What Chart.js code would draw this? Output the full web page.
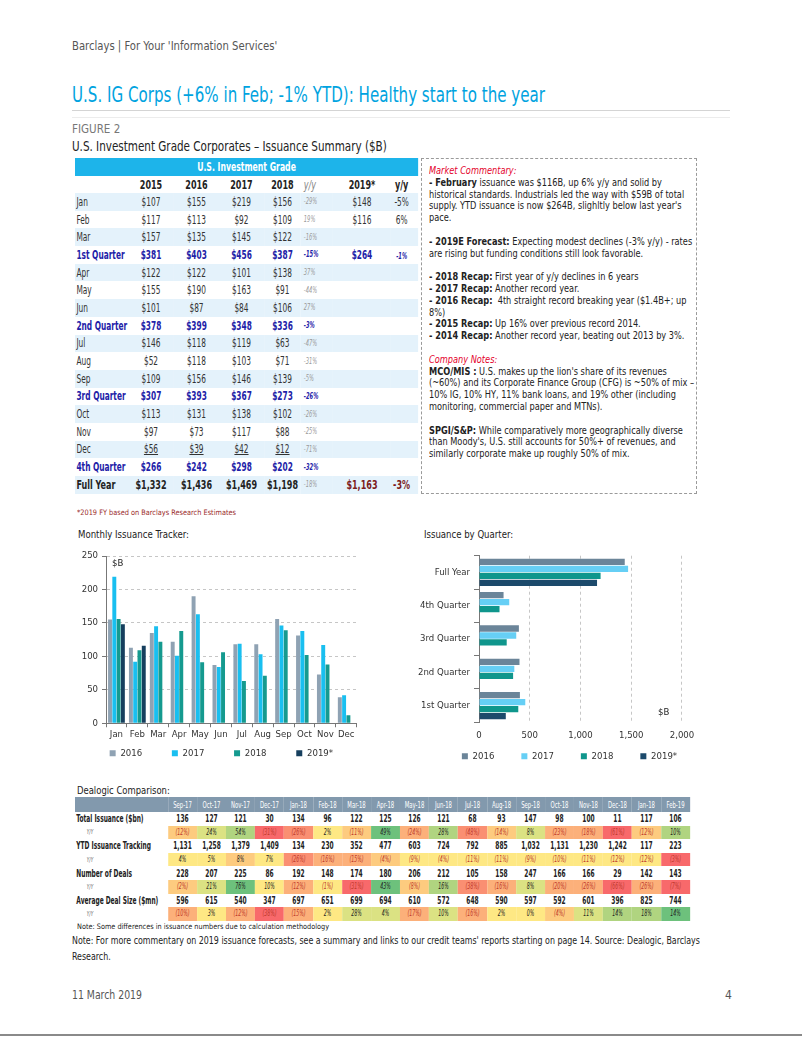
<!DOCTYPE html>
<html>
<head>
<meta charset="utf-8">
<script src="https://cdn.jsdelivr.net/npm/chart.js@4.4.1/dist/chart.umd.min.js"></script>
<style>
  body { margin: 0; width: 802px; height: 1037px; background: #fff; position: relative; overflow: hidden;
         font-family: "Liberation Sans Narrow", "DejaVu Sans Condensed", Roboto, sans-serif; color: #222; }
  .abs { position: absolute; white-space: nowrap; transform-origin: 0 0; }
  #hdr { left: 72px; top: 38px; font-size: 12.5px; color: #555; }
  #title { left: 72px; top: 83px; font-size: 21px; color: #00a3e0; }
  #rule1 { left: 72px; top: 110px; width: 658px; height: 0; border-top: 1.5px solid #d4d4d4; }
  #rule2 { left: 72px; top: 117px; width: 658px; height: 0; border-top: 1px solid #ececec; }
  #fig { left: 72px; top: 122px; font-size: 12px; color: #777; }
  #figt { left: 72px; top: 138px; font-size: 13.5px; color: #222; }
  table { border-collapse: collapse; table-layout: fixed; transform-origin: 0 0; }
  #iss { position: absolute; left: 75px; top: 158px; font-size: 11.5px; color: #333; }
  #iss td { padding: 0; height: 17.7px; text-align: center; white-space: nowrap; overflow: visible; }
  #iss td.lab { text-align: left; padding-left: 2px; }
  #iss tr.band td { background: #1db4ea; color: #fff; font-weight: bold; font-size: 12px; height: 18px; }
  #iss tr.colh td { font-weight: bold; font-size: 12.5px; color: #222; height: 17px; }
  #iss tr.sh td { background: #e4f2fb; }
  #iss td.yy { font-style: italic; font-size: 8px; color: #9a9a9a; text-align: left; padding-left: 4px; }
  #iss td.yy2 { padding-right: 8px; }
  #iss tr.q td { color: #1e22a8; font-weight: bold; }
  #iss tr.q td.yy { color: #1e22a8; }
  #iss tr.fy td { color: #222; font-weight: bold; font-size: 12.5px; }
  #iss tr.fy td.yy { font-weight: normal; color: #9a9a9a; font-size: 8px; }
  #iss tr.fy td.red { color: #7d1c1c; }
  #iss tr.ul td.v { text-decoration: underline; }
  #box { position: absolute; left: 421px; top: 158px; width: 276px; height: 336px; box-sizing: border-box;
         border: 1px dashed #9a9a9a; padding: 6px 0 0 7px; font-size: 10.5px; line-height: 11.8px; color: #222; overflow: hidden; }
  #boxin { transform-origin: 0 0; }
  #boxin div { white-space: nowrap; height: 11.8px; }
  #boxin div span.l { display: inline-block; }
  #boxin .red { color: #e4002b; font-style: italic; }
  #fn { left: 77px; top: 508px; font-size: 7.5px; color: #9a2a2a; }
  .ctitle { font-size: 11px; color: #222; }
  canvas { position: absolute; }
  #dlt { left: 77px; top: 784px; font-size: 11px; color: #222; }
  #dl { position: absolute; left: 75px; top: 797px; font-size: 10px; }
  #dl td { padding: 0; height: 13.6px; text-align: center; white-space: nowrap; font-weight: bold; color: #222; }
  #dl tr.h td { background: #8299ad; color: #fff; font-weight: normal; font-size: 9px; height: 15px; }
  #dl td.lab { text-align: left; padding-left: 2px; }
  #dl tr.y td { font-weight: normal; font-style: italic; font-size: 8px; }
  #dl tr.y td.lab { padding-left: 18px; font-size: 7px; color: #666; }
  #dl td.neg { color: #c0392b; }
  #n1 { left: 77px; top: 922px; font-size: 7.5px; color: #222; }
  #n2 { left: 72px; top: 932px; font-size: 10.5px; line-height: 16px; color: #222; }
  #date { left: 72px; top: 988px; font-size: 12px; color: #555; }
  #pg { left: 725px; top: 988px; font-size: 12px; color: #555; }
  #bot { left: 0; top: 1034px; width: 802px; height: 0; border-top: 2px solid #8a8a8a; }
</style>
</head>
<body>
<div class="abs" id="hdr" data-w="205">Barclays | For Your 'Information Services'</div>
<div class="abs" id="title" data-w="473">U.S. IG Corps (+6% in Feb; -1% YTD): Healthy start to the year</div>
<div class="abs" id="rule1"></div>
<div class="abs" id="rule2"></div>
<div class="abs" id="fig" data-w="48">FIGURE 2</div>
<div class="abs" id="figt" data-w="315">U.S. Investment Grade Corporates – Issuance Summary ($B)</div>

<table id="iss"></table>

<div id="box"><div id="boxin">
  <div class="red">Market Commentary:</div>
  <div><span class="l"><b>- February</b> issuance was $116B, up 6% y/y and solid by</span></div>
  <div><span class="l">historical standards. Industrials led the way with $59B of total</span></div>
  <div><span class="l">supply. YTD issuance is now $264B, slighltly below last year's</span></div>
  <div>pace.</div>
  <div></div>
  <div><span class="l"><b>- 2019E Forecast:</b> Expecting modest declines (-3% y/y) - rates</span></div>
  <div><span class="l">are rising but funding conditions still look favorable.</span></div>
  <div></div>
  <div><b>- 2018 Recap:</b> First year of y/y declines in 6 years</div>
  <div><b>- 2017 Recap:</b> Another record year.</div>
  <div><span class="l"><b>- 2016 Recap:</b>&nbsp; 4th straight record breaking year ($1.4B+; up</span></div>
  <div>8%)</div>
  <div><b>- 2015 Recap:</b> Up 16% over previous record 2014.</div>
  <div><span class="l"><b>- 2014 Recap:</b> Another record year, beating out 2013 by 3%.</span></div>
  <div></div>
  <div class="red">Company Notes:</div>
  <div><span class="l"><b>MCO/MIS :</b> U.S. makes up the lion's share of its revenues</span></div>
  <div><span class="l">(~60%) and its Corporate Finance Group (CFG) is ~50% of mix –</span></div>
  <div><span class="l">10% IG, 10% HY, 11% bank loans, and 19% other (including</span></div>
  <div>monitoring, commercial paper and MTNs).</div>
  <div></div>
  <div><span class="l"><b>SPGI/S&amp;P:</b> While comparatively more geographically diverse</span></div>
  <div><span class="l">than Moody's, U.S. still accounts for 50%+ of revenues, and</span></div>
  <div>similarly corporate make up roughly 50% of mix.</div>
</div></div>

<div class="abs" id="fn" data-w="159">*2019 FY based on Barclays Research Estimates</div>

<div class="abs ctitle" style="left:78px;top:528px" data-w="111">Monthly Issuance Tracker:</div>
<div class="abs ctitle" style="left:424px;top:528px" data-w="89">Issuance by Quarter:</div>
<canvas id="monthly" width="300" height="222" style="left:60px;top:546px"></canvas>
<canvas id="quarter" width="300" height="222" style="left:410px;top:546px"></canvas>

<div class="abs" id="dlt" data-w="93">Dealogic Comparison:</div>
<table id="dl"></table>
<div class="abs" id="n1" data-w="252">Note: Some differences in issuance numbers due to calculation methodology</div>
<div class="abs" id="n2" data-w="628">Note: For more commentary on 2019 issuance forecasts, see a summary and links to our credit teams' reports starting on page 14. Source: Dealogic, Barclays<br>Research.</div>
<div class="abs" id="date" data-w="70">11 March 2019</div>
<div class="abs" id="pg">4</div>
<div class="abs" id="bot"></div>

<script>
// ---- issuance summary ($B) ----
const months = ['Jan', 'Feb', 'Mar', 'Apr', 'May', 'Jun', 'Jul', 'Aug', 'Sep', 'Oct', 'Nov', 'Dec'];
const y2015 = [107, 117, 157, 122, 155, 101, 146, 52, 109, 113, 97, 56];
const y2016 = [155, 113, 135, 122, 190, 87, 118, 118, 156, 131, 73, 39];
const y2017 = [219, 92, 145, 101, 163, 84, 119, 103, 146, 138, 117, 42];
const y2018 = [156, 109, 122, 138, 91, 106, 63, 71, 139, 102, 88, 12];
const y2019 = [148, 116];
const yoy2018 = [-29, 19, -16, 37, -44, 27, -47, -31, -5, -26, -25, -71];
const yoy2019 = [-5, 6];

const quarterNames = ['1st Quarter', '2nd Quarter', '3rd Quarter', '4th Quarter'];
const q2015 = [381, 378, 307, 266];
const q2016 = [403, 399, 393, 242];
const q2017 = [456, 348, 367, 298];
const q2018 = [387, 336, 273, 202];
const qYoy2018 = [-15, -3, -26, -32];
const q2019 = [264];
const qYoy2019 = [-1];

const fullYear = [1332, 1436, 1469, 1198];
const fyYoy2018 = -18;
const fy2019 = 1163;
const fyYoy2019 = -3;

// ---- dealogic comparison ----
const dlMonths = ['Sep-17', 'Oct-17', 'Nov-17', 'Dec-17', 'Jan-18', 'Feb-18', 'Mar-18', 'Apr-18', 'May-18',
                  'Jun-18', 'Jul-18', 'Aug-18', 'Sep-18', 'Oct-18', 'Nov-18', 'Dec-18', 'Jan-18', 'Feb-19'];
const totalIss = [136, 127, 121, 30, 134, 96, 122, 125, 126, 121, 68, 93, 147, 98, 100, 11, 117, 106];
const totalYoy = [-12, 24, 54, -31, -26, 2, -11, 49, -24, 28, -48, -14, 8, -23, -18, -61, -12, 10];
const ytdIss = [1131, 1258, 1379, 1409, 134, 230, 352, 477, 603, 724, 792, 885, 1032, 1131, 1230, 1242, 117, 223];
const ytdYoy = [4, 5, 8, 7, -26, -16, -15, -4, -9, -4, -11, -11, -9, -10, -11, -12, -12, -3];
const numDeals = [228, 207, 225, 86, 192, 148, 174, 180, 206, 212, 105, 158, 247, 166, 166, 29, 142, 143];
const dealsYoy = [-2, 21, 76, 10, -12, -1, -31, 43, -8, 16, -38, -16, 8, -20, -26, -66, -26, -7];
const avgSize = [596, 615, 540, 347, 697, 651, 699, 694, 610, 572, 648, 590, 597, 592, 601, 396, 825, 744];
const avgYoy = [-10, 3, -12, -38, -15, 2, 28, 4, -17, 10, -16, 2, 0, -4, 11, 14, 18, 14];

// heatmap shades per cell (style only)
const shade = { R: '#f8696b', S: '#fa8f72', O: '#fcb07a', o: '#fdcb7f', Y: '#fee884', L: '#dbe283', G: '#b0d480', D: '#6dc17c' };
const heatTotal = 'oLGRSYoDOGSoLOORoG';
const heatYtd   = 'YYoYSOOoYYYYYYYYYR';
const heatDeals = 'oLDYOYRDoGSOLOOROR';
const heatAvg   = 'OYOROYLLOLOYYoLGGD';

const FONT = '"Liberation Sans Narrow", "DejaVu Sans Condensed", Roboto, sans-serif';

// text width helper, used to squeeze the wide fallback font to the reference widths
const mctx = document.createElement('canvas').getContext('2d');
function tw(font, s) { mctx.font = font + ' ' + FONT; return mctx.measureText(s).width; }

const money = v => '$' + v.toLocaleString('en-US');
const pct = v => v + '%';

// build issuance table
const kIss = Math.min(1, 39 / tw('bold 12.5px', 'Full Year'));
const issCols = [53, 46, 45, 45, 37, 32, 58, 27];
let h = '<colgroup>' + issCols.map(w => '<col style="width:' + (w / kIss) + 'px">').join('') + '</colgroup>';
h += '<tr class="band"><td colspan="8">U.S. Investment Grade</td></tr>';
h += '<tr class="colh"><td></td><td>2015</td><td>2016</td><td>2017</td><td>2018</td>' +
     '<td class="yy" style="font-weight:normal;color:#888">y/y</td><td>2019*</td><td class="yy2">y/y</td></tr>';
let rowIdx = 0;
function row(cls, label, vals, yy, v19, yy19) {
  const c = (rowIdx++ % 2 === 0 ? 'sh ' : '') + cls;
  h += '<tr class="' + c + '"><td class="lab">' + label + '</td>' +
       vals.map(v => '<td class="v">' + v + '</td>').join('') +
       '<td class="yy">' + yy + '</td>' +
       '<td class="red">' + (v19 || '') + '</td>' +
       '<td class="yy2 red">' + (yy19 || '') + '</td></tr>';
}
for (let q = 0; q < 4; q++) {
  for (let m = q * 3; m < q * 3 + 3; m++) {
    row(m === 11 ? 'ul' : '', months[m], [y2015[m], y2016[m], y2017[m], y2018[m]].map(money),
        pct(yoy2018[m]), y2019[m] != null ? money(y2019[m]) : '', yoy2019[m] != null ? pct(yoy2019[m]) : '');
  }
  row('q', quarterNames[q], [q2015[q], q2016[q], q2017[q], q2018[q]].map(money), pct(qYoy2018[q]),
      q2019[q] != null ? money(q2019[q]) : '',
      qYoy2019[q] != null ? '<span style="font-style:italic;font-size:8px">' + pct(qYoy2019[q]) + '</span>' : '');
}
row('fy', 'Full Year', fullYear.map(money), pct(fyYoy2018), money(fy2019), pct(fyYoy2019));
const iss = document.getElementById('iss');
iss.innerHTML = h;
iss.style.width = (343 / kIss) + 'px';
iss.style.transform = 'scaleX(' + kIss + ')';

// build dealogic table
const kDl = Math.min(1, 82 / tw('bold 10px', 'Average Deal Size ($mn)'));
const fmtPct = v => v < 0 ? '(' + (-v) + '%)' : v + '%';
let d = '<colgroup><col style="width:' + (93 / kDl) + 'px">' +
        dlMonths.map(() => '<col style="width:' + (29 / kDl) + 'px">').join('') + '</colgroup>';
d += '<tr class="h"><td></td>' + dlMonths.map(m => '<td>' + m + '</td>').join('') + '</tr>';
function dlRows(label, vals, yoy, heat) {
  d += '<tr><td class="lab">' + label + '</td>' + vals.map(v => '<td>' + v.toLocaleString('en-US') + '</td>').join('') + '</tr>';
  d += '<tr class="y"><td class="lab">Y/Y</td>' + yoy.map((v, i) =>
    '<td class="' + (v < 0 ? 'neg' : '') + '" style="background:' + shade[heat[i]] + '">' + fmtPct(v) + '</td>').join('') + '</tr>';
}
dlRows('Total Issuance ($bn)', totalIss, totalYoy, heatTotal);
dlRows('YTD Issuance Tracking', ytdIss, ytdYoy, heatYtd);
dlRows('Number of Deals', numDeals, dealsYoy, heatDeals);
dlRows('Average Deal Size ($mn)', avgSize, avgYoy, heatAvg);
const dl = document.getElementById('dl');
dl.innerHTML = d;
dl.style.width = (615 / kDl) + 'px';
dl.style.transform = 'scaleX(' + kDl + ')';

// squeeze commentary box (widest line to the box's inner width) and single text lines
const boxin = document.getElementById('boxin');
const widest = Math.max(...[...boxin.querySelectorAll('span.l')].map(s => s.getBoundingClientRect().width));
boxin.style.transform = 'scaleX(' + Math.min(1, 265 / widest) + ')';
document.querySelectorAll('[data-w]').forEach(el => {
  const k = +el.dataset.w / el.scrollWidth;
  el.style.transform = 'scaleX(' + k + ')';
});

// ---- charts ----
const CF = Math.min(11, Math.round(11 * 36 / tw('11px', 'Full Year') * 2) / 2);
Chart.defaults.font.family = FONT;
Chart.defaults.font.size = CF;
Chart.defaults.color = '#333';

const unitLabel = {
  id: 'unitLabel',
  afterDraw(chart, args, opts) {
    const { ctx, chartArea } = chart;
    ctx.save();
    ctx.font = CF + 'px ' + FONT;
    ctx.fillStyle = '#222';
    ctx.textBaseline = 'middle';
    const x = opts.fromRight ? chartArea.right - opts.dx : chartArea.left + opts.dx;
    const y = opts.fromBottom ? chartArea.bottom - opts.dy : chartArea.top + opts.dy;
    ctx.fillText('$B', x, y);
    ctx.restore();
  }
};

const monthlyColors = ['#8fa2b3', '#19bff0', '#159a8f', '#163f5e'];
const quarterColors = ['#6b8599', '#66cff5', '#0f968c', '#1c4a6b'];
const seriesNames = ['2016', '2017', '2018', '2019*'];

// Works out canvas placement so that the plot area and the legend row land where the reference has them.
// The legend is centred on the padded box, so a left axis width and a blank right axis are sized for that;
// the left axis must stay wide enough for its tick labels (they are clipped to the axis box).
// Legend padding is kept small (it is also the gap above the row); item spacing comes from trailing spaces.
const LEG_PAD = 8;
function frame(canvasId, f) {
  const item = 6 + CF / 2 + tw(CF + 'px', '2016');
  const last = 6 + CF / 2 + tw(CF + 'px', '2019*');
  const nSp = Math.max(0, Math.round((f.spacing - LEG_PAD - item) / tw(CF + 'px', ' ')));
  const trail = ' '.repeat(nSp);
  const itemW = item + nSp * tw(CF + 'px', ' ');
  const half = Math.max((3 * (itemW + LEG_PAD) + last + 2 * LEG_PAD) / 2 + 3,
                        f.plotRight - f.legendCenter + 2,
                        f.legendCenter - (f.plotLeft - f.minAxisW));
  const legLeft = f.legendCenter - half, legRight = f.legendCenter + half;
  const left = Math.min(f.canvasLeft, legLeft);
  const cv = document.getElementById(canvasId);
  cv.style.left = left + 'px';
  cv.style.top = f.top + 'px';
  cv.width = Math.ceil(legRight - left);
  const axisH = Math.max(0, f.legendY - f.plotBottom - LEG_PAD - CF / 2);
  cv.height = Math.round(f.plotBottom + axisH + LEG_PAD + CF + 10 - f.top);
  return { cv, trail, padLeft: legLeft - left, yW: f.plotLeft - legLeft, rW: legRight - f.plotRight, axisH };
}
const blankRight = w => ({
  type: 'linear', position: 'right', display: true,
  ticks: { display: false }, grid: { display: false, drawTicks: false }, border: { display: false },
  afterFit(s) { s.width = w; }
});
const legendOpts = fr => ({
  position: 'bottom',
  labels: {
    boxWidth: 6, boxHeight: 6, padding: LEG_PAD, color: '#333',
    generateLabels(chart) {
      const items = Chart.defaults.plugins.legend.labels.generateLabels(chart);
      items.forEach((it, i) => { if (i < items.length - 1) it.text += fr.trail; });
      return items;
    }
  }
});

// monthly: plot x 106..356, y 556..723, legend row centred near (221, 753)
const mf = frame('monthly', { canvasLeft: 66, top: 546, plotLeft: 106, plotRight: 356, plotBottom: 723,
                              legendCenter: 221, legendY: 753, spacing: 62,
                              minAxisW: 10 + tw(CF + 'px', '250') });
new Chart(mf.cv, {
  type: 'bar',
  data: {
    labels: months,
    datasets: [y2016, y2017, y2018, y2019].map((arr, i) => ({
      label: seriesNames[i], data: arr, backgroundColor: monthlyColors[i],
      categoryPercentage: 0.82, barPercentage: 0.92
    }))
  },
  plugins: [unitLabel],
  options: {
    responsive: false, animation: false, devicePixelRatio: 1,
    layout: { padding: { top: 10, right: 0, left: mf.padLeft, bottom: 0 } },
    plugins: {
      legend: legendOpts(mf),
      tooltip: { enabled: false },
      unitLabel: { dx: 6, dy: 8 }
    },
    scales: {
      x: {
        grid: { drawOnChartArea: false, tickLength: 4, color: '#777' },
        border: { color: '#777' },
        ticks: { padding: 2, maxRotation: 0, autoSkip: false },
        afterFit(s) { s.height = mf.axisH; }
      },
      y: {
        min: 0, max: 250,
        ticks: { stepSize: 50, padding: 4 },
        grid: { color: '#c6c6c6', tickColor: '#777', tickLength: 4 },
        border: { color: '#777', dash: [3, 3] },
        afterFit(s) { s.width = mf.yW; }
      },
      blank: blankRight(mf.rW)
    }
  }
});

const quarterLabels = ['Full Year', '4th Quarter', '3rd Quarter', '2nd Quarter', '1st Quarter'];
const byQuarter = (fy, q) => [fy, q[3], q[2], q[1], q[0]];
const quarterSeries = [
  byQuarter(fullYear[1], q2016),
  byQuarter(fullYear[2], q2017),
  byQuarter(fullYear[3], q2018),
  byQuarter(fy2019, [q2019[0], null, null, null])
];

// quarter: plot x 479..681, y 549..722, legend row centred near (569, 756)
const qf = frame('quarter', { canvasLeft: 405, top: 546, plotLeft: 479, plotRight: 681, plotBottom: 722,
                              legendCenter: 569, legendY: 756, spacing: 60,
                              minAxisW: 12 + Math.max(...quarterLabels.map(s => tw(CF + 'px', s))) });
new Chart(qf.cv, {
  type: 'bar',
  data: {
    labels: quarterLabels,
    datasets: quarterSeries.map((arr, i) => ({
      label: seriesNames[i], data: arr, backgroundColor: quarterColors[i],
      categoryPercentage: 0.84, barPercentage: 0.9
    }))
  },
  plugins: [unitLabel],
  options: {
    indexAxis: 'y',
    responsive: false, animation: false, devicePixelRatio: 1,
    layout: { padding: { top: 3, right: 0, left: qf.padLeft, bottom: 0 } },
    plugins: {
      legend: legendOpts(qf),
      tooltip: { enabled: false },
      unitLabel: { fromRight: true, fromBottom: true, dx: 24, dy: 10 }
    },
    scales: {
      x: {
        min: 0, max: 2000,
        ticks: { stepSize: 500, padding: 8, callback: v => v.toLocaleString('en-US') },
        grid: { color: '#c6c6c6', drawTicks: false },
        border: { display: false, dash: [3, 3] },
        afterFit(s) { s.height = qf.axisH; }
      },
      y: {
        grid: { drawOnChartArea: false, tickLength: 5, color: '#777' },
        border: { color: '#777' },
        ticks: { padding: 4 },
        afterFit(s) { s.width = qf.yW; }
      },
      blank: blankRight(qf.rW)
    }
  }
});
</script>
</body>
</html>
